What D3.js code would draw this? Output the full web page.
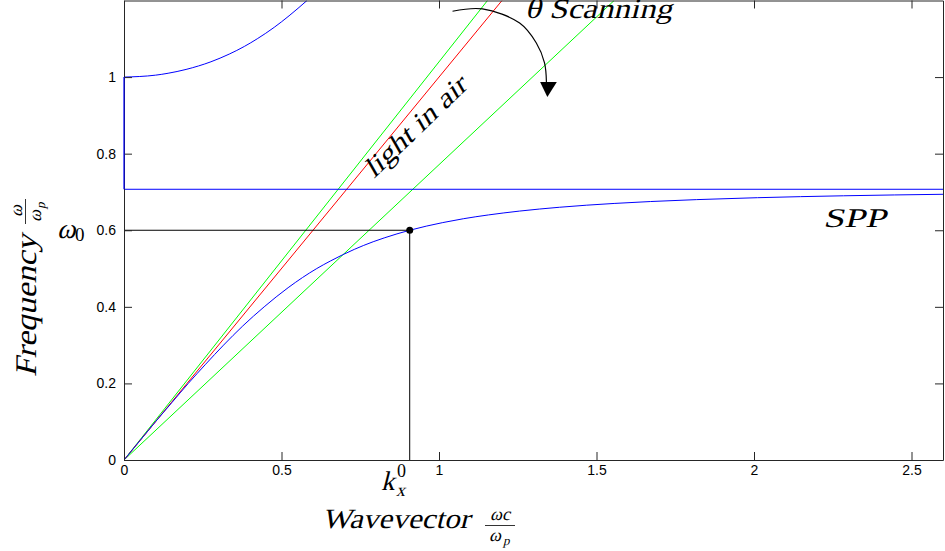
<!DOCTYPE html>
<html>
<head>
<meta charset="utf-8">
<script src="https://cdn.jsdelivr.net/npm/d3@7"></script>
<style>
  body { margin: 0; background: #fff; }
  .tick text { font-family: "Liberation Sans", Arial, sans-serif; font-size: 14px; fill: #000; }
  .tick line, .domain { stroke: #262626; }
</style>
</head>
<body>
<div class="chart"></div>
<script>
// Tick values
var xTicks = [0, 0.5, 1, 1.5, 2, 2.5];
var yTicks = [0, 0.2, 0.4, 0.6, 0.8, 1];

// Lower SPP branch (wavevector, frequency)
var sppK = [0, 0.050, 0.100, 0.152, 0.204, 0.259, 0.316, 0.377, 0.445, 0.521, 0.612, 0.656, 0.731, 0.791, 0.826, 0.907, 1.012, 1.077, 1.157, 1.255, 1.382, 1.556, 1.672, 1.818, 2.011, 2.284, 2.607];
var sppW = [0, 0.05, 0.10, 0.15, 0.20, 0.25, 0.30, 0.35, 0.40, 0.45, 0.50, 0.52, 0.55, 0.57, 0.58, 0.60, 0.62, 0.63, 0.64, 0.65, 0.66, 0.67, 0.675, 0.68, 0.685, 0.69, 0.694];

// Upper branch above the plasma frequency
var upperK = [0, 0.100, 0.140, 0.197, 0.276, 0.334, 0.382, 0.423, 0.477, 0.524, 0.581];
var upperW = [1, 1.005, 1.01, 1.02, 1.04, 1.06, 1.08, 1.10, 1.13, 1.16, 1.20];

// Gap on the frequency axis (k = 0) and the surface plasmon asymptote
var gapW = [0.707, 1];
var asymptoteW = 0.707;

// Light lines: end point (k, w) of each line from the origin
var redLine = [1.2, 1.2];
var greenLines = [[1.154, 1.2], [1.556, 1.2]];

// Operating point
var k0 = 0.907;
var w0 = 0.6;

// Scanning arrow (k, w)
var arrowK = [1.043, 1.138, 1.256, 1.309, 1.335, 1.341];
var arrowW = [1.172, 1.178, 1.141, 1.089, 1.037, 0.987];
var headK = [1.321, 1.374, 1.344];
var headW = [0.987, 0.987, 0.948];

var svgWidth = 945;
var svgHeight = 551;
var margin = { top: 0.5, right: 2, bottom: 91, left: 124 };
var width = svgWidth - margin.left - margin.right;
var height = svgHeight - margin.top - margin.bottom;

var serif = "'Liberation Serif', 'DejaVu Serif', serif";

var svg = d3.select(".chart")
  .append("svg")
  .attr("width", svgWidth)
  .attr("height", svgHeight);

var chart = svg.append("g")
  .attr("transform", "translate(" + margin.left + ", " + margin.top + ")");

var x = d3.scaleLinear().domain([0, 2.6]).range([0, width]);
var y = d3.scaleLinear().domain([0, 1.2]).range([height, 0]);

svg.append("defs").append("clipPath").attr("id", "clip")
  .append("rect").attr("width", width).attr("height", height);

var plot = chart.append("g").attr("clip-path", "url(#clip)");

var line = d3.line()
  .x(function(d) { return x(d[0]); })
  .y(function(d) { return y(d[1]); });

// light lines
greenLines.forEach(function(p) {
  plot.append("path")
    .attr("d", line([[0, 0], p]))
    .attr("fill", "none").attr("stroke", "#00ff00").attr("stroke-width", 1);
});
plot.append("path")
  .attr("d", line([[0, 0], redLine]))
  .attr("fill", "none").attr("stroke", "#ff0000").attr("stroke-width", 1);

// blue dispersion curves
var curve = d3.line()
  .x(function(d) { return x(d[0]); })
  .y(function(d) { return y(d[1]); })
  .curve(d3.curveMonotoneX);

plot.append("path")
  .attr("d", curve(sppK.map(function(k, i) { return [k, sppW[i]]; })))
  .attr("fill", "none").attr("stroke", "#0000ff").attr("stroke-width", 1);

plot.append("path")
  .attr("d", curve(upperK.map(function(k, i) { return [k, upperW[i]]; })))
  .attr("fill", "none").attr("stroke", "#0000ff").attr("stroke-width", 1);

plot.append("path")
  .attr("d", line([[0, asymptoteW], [2.6, asymptoteW]]))
  .attr("fill", "none").attr("stroke", "#0000ff").attr("stroke-width", 1);

// operating point guides
plot.append("path")
  .attr("d", line([[0, w0], [k0, w0], [k0, 0]]))
  .attr("fill", "none").attr("stroke", "#000").attr("stroke-width", 1);

plot.append("circle")
  .attr("cx", x(k0)).attr("cy", y(w0)).attr("r", 3.5).attr("fill", "#000");

// axes, MATLAB-style inward ticks on all four sides
chart.append("g")
  .attr("transform", "translate(0, " + height + ")")
  .call(d3.axisBottom(x).tickValues(xTicks).tickSize(-8).tickSizeOuter(0).tickPadding(5)
    .tickFormat(d3.format("")));
chart.append("g")
  .call(d3.axisTop(x).tickValues(xTicks).tickSize(-8).tickSizeOuter(0).tickFormat(""));
chart.append("g")
  .call(d3.axisLeft(y).tickValues(yTicks).tickSize(-8).tickSizeOuter(0).tickPadding(8)
    .tickFormat(d3.format("")));
chart.append("g")
  .attr("transform", "translate(" + width + ", 0)")
  .call(d3.axisRight(y).tickValues(yTicks).tickSize(-8).tickSizeOuter(0).tickFormat(""));

chart.selectAll(".domain").attr("stroke-width", 1);

// gap line drawn over the left axis
chart.append("path")
  .attr("d", line([[0, gapW[0]], [0, gapW[1]]]))
  .attr("fill", "none").attr("stroke", "#0000ff").attr("stroke-width", 1.2);

// scanning arrow
chart.append("path")
  .attr("d", d3.line().curve(d3.curveCatmullRom)
    .x(function(d) { return x(d[0]); }).y(function(d) { return y(d[1]); })
    (arrowK.map(function(k, i) { return [k, arrowW[i]]; })))
  .attr("fill", "none").attr("stroke", "#000").attr("stroke-width", 1.2);
chart.append("path")
  .attr("d", line(headK.map(function(k, i) { return [k, headW[i]]; })) + "Z")
  .attr("fill", "#000");

// LaTeX-like labels: upright serif slanted by hand
function tex(parent, str, px, py, size, italic) {
  return parent.append("text")
    .attr("transform", "translate(" + px + "," + py + ")" + (italic === false ? "" : " skewX(-14)"))
    .style("font-family", serif)
    .style("font-size", size + "px")
    .attr("fill", "#000")
    .text(str);
}

// annotations
tex(svg, "\u03b8 Scanning", 525, 18, 28)
  .attr("textLength", 147).attr("lengthAdjust", "spacingAndGlyphs");

var lightLabel = svg.append("g").attr("transform", "translate(374, 179) rotate(-44)");
tex(lightLabel, "light in air", 0, 0, 27)
  .attr("textLength", 132).attr("lengthAdjust", "spacingAndGlyphs");

tex(svg, "SPP", 823, 227, 27)
  .attr("textLength", 63).attr("lengthAdjust", "spacingAndGlyphs");

// omega_0 label
tex(svg, "\u03c9", 57, 238, 28);
tex(svg, "0", 75, 241, 19, false);

// k_x^0 label
tex(svg, "k", 381, 490, 27);
tex(svg, "0", 397, 477, 18, false);
tex(svg, "x", 396, 496, 18);

// x axis title
tex(svg, "Wavevector", 322, 528, 28)
  .attr("textLength", 148).attr("lengthAdjust", "spacingAndGlyphs");
tex(svg, "\u03c9c", 500, 520, 18).attr("text-anchor", "middle");
svg.append("line")
  .attr("x1", 485).attr("x2", 515).attr("y1", 525.5).attr("y2", 525.5)
  .attr("stroke", "#000").attr("stroke-width", 0.8);
tex(svg, "\u03c9", 495, 541, 18).attr("text-anchor", "middle");
tex(svg, "p", 503, 545, 13);

// y axis title
var yTitle = svg.append("g").attr("transform", "translate(36, 377) rotate(-90)");
tex(yTitle, "Frequency", 0, 0, 30)
  .attr("textLength", 142).attr("lengthAdjust", "spacingAndGlyphs");
tex(yTitle, "\u03c9", 166, -14, 18).attr("text-anchor", "middle");
yTitle.append("line")
  .attr("x1", 153).attr("x2", 178).attr("y1", -10.5).attr("y2", -10.5)
  .attr("stroke", "#000").attr("stroke-width", 0.8);
tex(yTitle, "\u03c9", 161, 5, 18).attr("text-anchor", "middle");
tex(yTitle, "p", 168, 9, 13);
</script>
</body>
</html>
